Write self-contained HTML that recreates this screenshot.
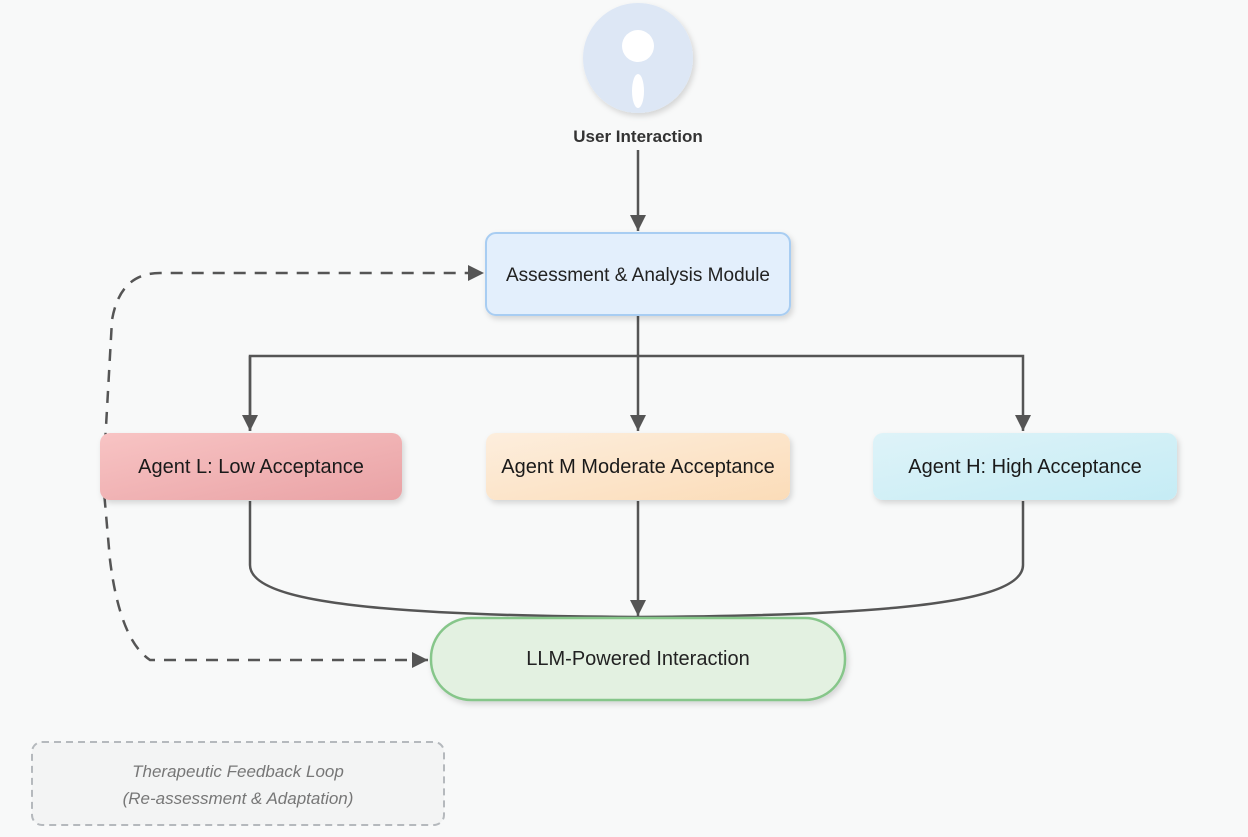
<!DOCTYPE html>
<html><head><style>
body{margin:0;width:1248px;height:832px;background:#f8f9f9;overflow:hidden;font-family:"Liberation Sans",sans-serif}
</style></head><body>
<svg width="1248" height="832" xmlns="http://www.w3.org/2000/svg">
<defs>
<marker id="b" viewBox="0 0 10 10" refX="10" refY="5" markerWidth="20" markerHeight="16" orient="auto-start-reverse" markerUnits="userSpaceOnUse"><path d="M0,0 L10,5 L0,10z" fill="#555"/></marker>
<linearGradient id="gl" x1="0" y1="0" x2="1" y2="1"><stop offset="0" stop-color="#f8c4c4"/><stop offset="1" stop-color="#e9a2a5"/></linearGradient>
<linearGradient id="gm" x1="0" y1="0" x2="1" y2="1"><stop offset="0" stop-color="#fdeedd"/><stop offset="1" stop-color="#fbdcb8"/></linearGradient>
<linearGradient id="gh" x1="0" y1="0" x2="1" y2="1"><stop offset="0" stop-color="#def3f8"/><stop offset="1" stop-color="#c5ecf5"/></linearGradient>
<filter id="s" x="-10%" y="-20%" width="120%" height="150%"><feDropShadow dx="2" dy="3" stdDeviation="3" flood-color="#000" flood-opacity="0.15"/></filter>
</defs>
<circle cx="638" cy="58" r="55" fill="#dde7f5" filter="url(#s)"/>
<circle cx="638" cy="46" r="16" fill="#fff"/>
<ellipse cx="638" cy="91" rx="6" ry="17" fill="#fff"/>
<text x="638" y="142" font-size="17" font-weight="bold" fill="#333" text-anchor="middle">User Interaction</text>
<g stroke="#555" stroke-width="2.5" fill="none">
<path d="M638 150 V231" marker-end="url(#b)"/>
<path d="M638 316 V431" marker-end="url(#b)"/>
<path d="M250 431 V356 H1023 V431" marker-end="url(#b)"/>
<path d="M250 356 V431" marker-end="url(#b)"/>
<path d="M638 501 V616" marker-end="url(#b)"/>
<path d="M250 501 V565 Q250 590 330 602 Q420 616 638 617"/>
<path d="M1023 501 V565 Q1023 590 943 602 Q853 616 638 617"/>
<path d="M428 660 H150 Q120 640 110 560 L103 480 L112 320 Q120 273 160 273 H484" stroke-dasharray="12 9" marker-start="url(#b)" marker-end="url(#b)"/>
</g>
<rect x="486" y="233" width="304" height="82" rx="10" fill="#e3effc" stroke="#a8cdf2" stroke-width="2" filter="url(#s)"/>
<text x="638" y="281" font-size="19" fill="#222" text-anchor="middle">Assessment &amp; Analysis Module</text>
<rect x="100" y="433" width="302" height="67" rx="10" fill="url(#gl)" filter="url(#s)"/>
<text x="251" y="473" font-size="20" fill="#1a1a1a" text-anchor="middle">Agent L: Low Acceptance</text>
<rect x="486" y="433" width="304" height="67" rx="10" fill="url(#gm)" filter="url(#s)"/>
<text x="638" y="473" font-size="20" fill="#1a1a1a" text-anchor="middle">Agent M Moderate Acceptance</text>
<rect x="873" y="433" width="304" height="67" rx="10" fill="url(#gh)" filter="url(#s)"/>
<text x="1025" y="473" font-size="20" fill="#1a1a1a" text-anchor="middle">Agent H: High Acceptance</text>
<rect x="431" y="618" width="414" height="82" rx="40" fill="#e3f1e1" stroke="#86c68a" stroke-width="2.5" filter="url(#s)"/>
<text x="638" y="665" font-size="20" fill="#222" text-anchor="middle">LLM-Powered Interaction</text>
<rect x="32" y="742" width="412" height="83" rx="10" fill="#f3f4f4" stroke="#b5b9bd" stroke-width="2" stroke-dasharray="7 5"/>
<text x="238" y="777" font-size="17" font-style="italic" fill="#777" text-anchor="middle">Therapeutic Feedback Loop</text>
<text x="238" y="804" font-size="17" font-style="italic" fill="#777" text-anchor="middle">(Re-assessment &amp; Adaptation)</text>
</svg>
</body></html>
